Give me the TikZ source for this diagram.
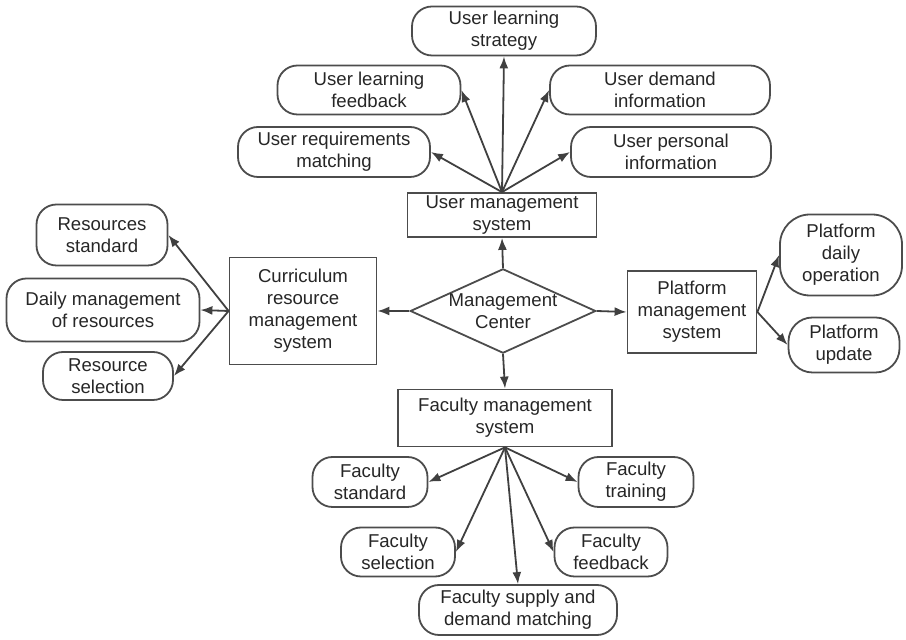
\documentclass[tikz,border=0pt]{standalone}
\usepackage{fontspec}
\setmainfont{Liberation Sans}
\usetikzlibrary{shapes.geometric,arrows.meta}

\begin{document}
\begin{tikzpicture}[x=0.5pt,y=-0.5pt,
  every node/.style={font=\fontsize{9.3}{11}\selectfont, align=center, text=black!85},
  sysbox/.style={draw=black!70, line width=0.9pt, inner sep=1pt},
  itembox/.style={draw=black!70, line width=0.9pt, rounded corners=10pt, inner sep=1pt},
  link/.style={draw=black!75, line width=0.9pt, -{Latex[length=6pt,width=4.5pt]}}]
\useasboundingbox (0,0) rectangle (906,640);
% user side
\node[itembox, minimum width=92pt, minimum height=24.5pt] (strategy) at (504,31) {User learning\\strategy};
\node[itembox, minimum width=91.5pt, minimum height=24.5pt] (feedback) at (369,90) {User learning\\feedback};
\node[itembox, minimum width=110pt, minimum height=24.5pt] (demand) at (660,90) {User demand\\information};
\node[itembox, minimum width=96pt, minimum height=25pt] (reqmatch) at (334,152) {User requirements\\matching};
\node[itembox, minimum width=100pt, minimum height=25pt] (personal) at (671,152) {User personal\\information};
\node[sysbox, minimum width=94.5pt, minimum height=22pt] (usersys) at (502,215) {User management\\system};
% centre
\node[draw=black!70, line width=0.9pt, shape=diamond, aspect=2.2, inner sep=0pt] (center) at (503,311) {Management\\Center};
% resources
\node[sysbox, minimum width=73.5pt, minimum height=53.5pt] (curric) at (303,311) {Curriculum\\resource\\management\\system};
\node[itembox, minimum width=65.5pt, minimum height=30.5pt] (resstd) at (102,235) {Resources\\standard};
\node[itembox, minimum width=96.5pt, minimum height=31.5pt] (resdaily) at (103,310) {Daily management\\of resources};
\node[itembox, minimum width=65pt, minimum height=24pt] (ressel) at (108,376) {Resource\\selection};
% platform
\node[sysbox, minimum width=64.5pt, minimum height=41pt] (platsys) at (692,312) {Platform\\management\\system};
\node[itembox, rounded corners=15pt, minimum width=61pt, minimum height=40.5pt] (dailyop) at (841,255) {Platform\\daily\\operation};
\node[itembox, rounded corners=12pt, minimum width=55.5pt, minimum height=27.5pt] (platupd) at (844,345) {Platform\\update};
% faculty
\node[sysbox, minimum width=107pt, minimum height=28.5pt] (facsys) at (505,418) {Faculty management\\system};
\node[itembox, minimum width=57.5pt, minimum height=25pt] (facstd) at (370,482) {Faculty\\standard};
\node[itembox, minimum width=57.5pt, minimum height=25pt] (factrain) at (636,482) {Faculty\\training};
\node[itembox, minimum width=57pt, minimum height=24.5pt] (facsel) at (398,552) {Faculty\\selection};
\node[itembox, minimum width=56.5pt, minimum height=24.5pt] (facfb) at (611,552) {Faculty\\feedback};
\node[itembox, minimum width=99pt, minimum height=25pt] (facmatch) at (518,610) {Faculty supply and\\demand matching};
% connectors
\draw[link] (usersys.north) -- (strategy.south);
\draw[link] (usersys.north) -- (feedback.east);
\draw[link] (usersys.north) -- (demand.west);
\draw[link] (usersys.north) -- (reqmatch.east);
\draw[link] (usersys.north) -- (personal.west);
\draw[link] (center.north) -- (usersys.south);
\draw[link] (center.west) -- (curric.east);
\draw[link] (center.east) -- (platsys.west);
\draw[link] (center.south) -- (facsys.north);
\draw[link] (curric.west) -- (resstd.east);
\draw[link] (curric.west) -- (resdaily.east);
\draw[link] (curric.west) -- (ressel.east);
\draw[link] (platsys.east) -- (dailyop.west);
\draw[link] (platsys.east) -- (platupd.west);
\draw[link] (facsys.south) -- (facstd.east);
\draw[link] (facsys.south) -- (factrain.west);
\draw[link] (facsys.south) -- (facsel.east);
\draw[link] (facsys.south) -- (facfb.west);
\draw[link] (facsys.south) -- (facmatch.north);
\end{tikzpicture}
\end{document}
